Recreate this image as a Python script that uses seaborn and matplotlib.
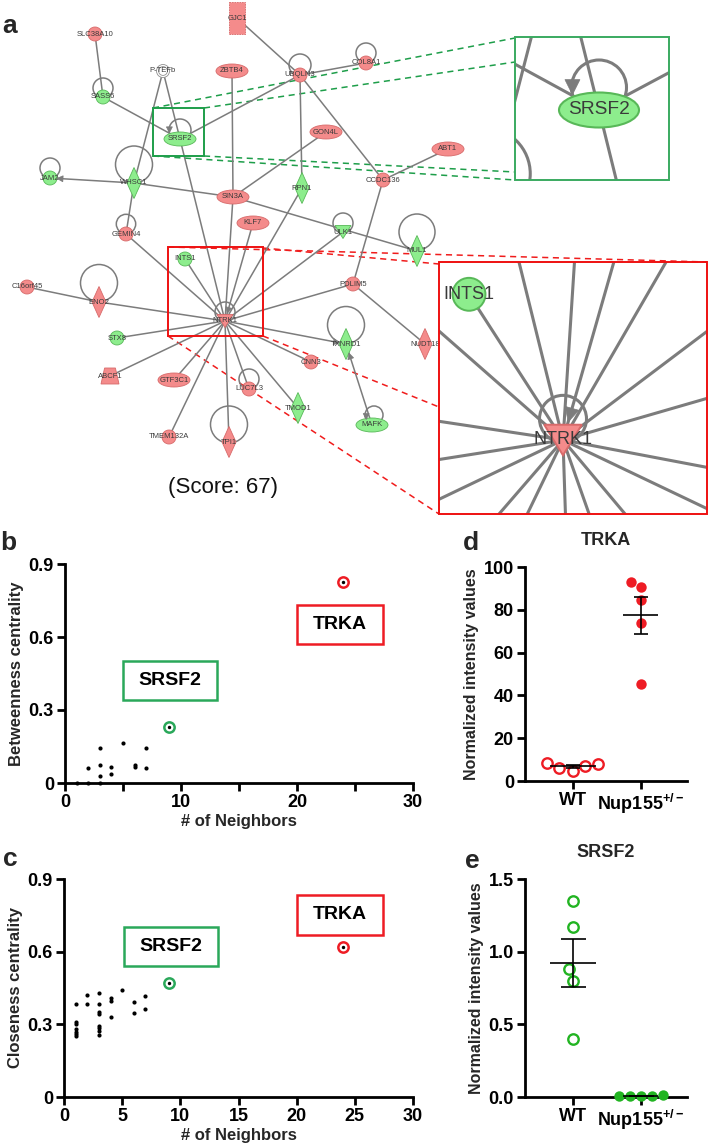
import numpy as np
import pandas as pd
import matplotlib
matplotlib.use("Agg")
import matplotlib.pyplot as plt
import seaborn as sns
from matplotlib.patches import Circle, Ellipse, Polygon, Rectangle

# ---------------- network (panel a) ----------------
node_names = ["GJC1", "SLC38A10", "P-TEFb", "ZBTB4", "UBQLN3", "COL8A1", "SASS6", "SRSF2", "GON4L", "ABT1",
              "JAM2", "WHSC1", "RPN1", "SIN3A", "CCDC136", "KLF7", "GEMIN4", "ULK1", "MUL1", "INTS1",
              "C16orf45", "ENO2", "NTRK1", "PDLIM5", "TXNRD1", "NUDT18", "STX8", "CNN3", "ABCF1", "GTF3C1",
              "LUC7L3", "TMOD1", "MAFK", "TMEM132A", "TPI1"]
node_x = [237, 95, 163, 232, 300, 366, 103, 180, 326, 448,
          50, 134, 302, 233, 383, 253, 126, 343, 417, 185,
          27, 99, 225, 353, 346, 425, 117, 311, 110, 174,
          249, 298, 372, 169, 229]
node_y = [18, 34, 71, 71, 75, 63, 97, 139, 132, 149,
          178, 183, 188, 197, 180, 223, 234, 232, 251, 259,
          287, 302, 321, 284, 344, 344, 338, 362, 376, 380,
          389, 408, 425, 437, 442]
node_shape = ["rect", "circle", "dcircle", "ellipse", "circle", "circle", "circle", "ellipse", "ellipse", "ellipse",
              "circle", "diamond", "diamond", "ellipse", "circle", "ellipse", "circle", "tri", "diamond", "circle",
              "circle", "diamond", "tri", "circle", "diamond", "diamond", "circle", "circle", "trap", "ellipse",
              "circle", "diamond", "ellipse", "circle", "diamond"]
node_reg = ["up", "up", "none", "up", "up", "up", "down", "down", "up", "up",
            "down", "down", "down", "up", "up", "up", "up", "down", "down", "down",
            "up", "up", "up", "up", "down", "up", "down", "up", "up", "up",
            "up", "down", "down", "up", "up"]
edges = [("GJC1", "UBQLN3"), ("SLC38A10", "SASS6"), ("SASS6", "SRSF2"), ("P-TEFb", "WHSC1"),
         ("P-TEFb", "SRSF2"), ("SRSF2", "UBQLN3"), ("SRSF2", "NTRK1"), ("UBQLN3", "COL8A1"),
         ("UBQLN3", "RPN1"), ("UBQLN3", "CCDC136"), ("ZBTB4", "SIN3A"), ("GON4L", "SIN3A"),
         ("ABT1", "CCDC136"), ("CCDC136", "PDLIM5"), ("WHSC1", "JAM2"), ("WHSC1", "SIN3A"),
         ("WHSC1", "GEMIN4"), ("SIN3A", "MUL1"), ("SIN3A", "NTRK1"), ("KLF7", "NTRK1"),
         ("RPN1", "NTRK1"), ("ULK1", "NTRK1"), ("GEMIN4", "NTRK1"), ("INTS1", "NTRK1"),
         ("C16orf45", "ENO2"), ("ENO2", "NTRK1"), ("STX8", "NTRK1"), ("ABCF1", "NTRK1"),
         ("GTF3C1", "NTRK1"), ("TMEM132A", "NTRK1"), ("TPI1", "NTRK1"), ("LUC7L3", "NTRK1"),
         ("TMOD1", "NTRK1"), ("CNN3", "NTRK1"), ("NTRK1", "TXNRD1"), ("PDLIM5", "NTRK1"),
         ("PDLIM5", "NUDT18"), ("MAFK", "TXNRD1")]
edge_arrow = [False, False, False, False, False, False, False, False,
              False, False, False, False, False, False, True, False,
              False, False, False, True, False, False, False, False,
              False, False, False, False, False, False, False, False,
              False, False, True, False, False, True]
loop_nodes = ["SASS6", "JAM2", "WHSC1", "GEMIN4", "UBQLN3", "COL8A1", "SRSF2", "ULK1",
              "MUL1", "ENO2", "NTRK1", "TXNRD1", "LUC7L3", "TPI1", "MAFK"]
loop_dx = [0, 0, 0, 0, 0, 0, 0, 0, 0, 0, 0, 0, 0, 0, 2]
loop_dy = [-9, -10, -18.5, -10, -10, -10, -9, -9, -19, -19, -9, -19, -10, -17.5, -10]
loop_r = [10, 10, 18.5, 9.7, 11, 10, 11, 10, 18, 18.5, 10, 18.5, 10, 18.5, 9]
loop_arrow_deg = [None, None, None, None, None, None, 165, None, None, None, None, None, None, None, 150]

# ---------------- panel b / c ----------------
neighbors_b = [1, 2, 3, 2, 3, 3, 3, 4, 4, 5, 6, 6, 7, 7]
betweenness = [0.0, 0.0, 0.0, 0.06, 0.073, 0.144, 0.029, 0.064, 0.037, 0.163, 0.075, 0.066, 0.144, 0.063]
neighbors_c = [1, 1, 1, 1, 1, 1, 1, 2, 2, 3, 3, 3, 3, 3, 3, 3, 3, 4, 4, 4, 5, 6, 6, 7, 7]
closeness = [0.386, 0.31, 0.30, 0.28, 0.27, 0.26, 0.25, 0.423, 0.385,
             0.429, 0.385, 0.35, 0.342, 0.295, 0.284, 0.273, 0.258,
             0.409, 0.396, 0.329, 0.441, 0.394, 0.346, 0.419, 0.364]
hl_names = ["SRSF2", "TRKA"]
hl_neighbors = [9, 24]
hl_betweenness = [0.229, 0.825]
hl_closeness = [0.471, 0.619]

# ---------------- panel d / e ----------------
groups = ["WT", "Nup155"]
group_labels = ["WT", r"Nup155$^{\mathbf{+/-}}$"]
trka_wt = [8.2, 7.2, 4.8, 5.9, 7.9]
trka_nup = [93.0, 90.7, 84.4, 73.9, 45.3]
srsf2_wt = [1.349, 1.172, 0.884, 0.80, 0.40]
srsf2_nup = [0.012, 0.008, 0.006, 0.007, 0.01]

# ---------------- style ----------------
sns.set_theme(style="ticks")
plt.rcParams["font.family"] = ["Liberation Sans", "DejaVu Sans"]
plt.rcParams["font.weight"] = "bold"
plt.rcParams["axes.labelweight"] = "bold"
plt.rcParams["axes.titleweight"] = "bold"
plt.rcParams["mathtext.fontset"] = "custom"
plt.rcParams["mathtext.rm"] = "Liberation Sans:bold"
plt.rcParams["mathtext.bf"] = "Liberation Sans:bold"
plt.rcParams["mathtext.it"] = "Liberation Sans:bold"

RED = "#ee1c24"
GREEN = "#22b422"
BOX_GREEN = "#2aa85a"
EDGE = "#7c7c7c"
FILL = {"up": "#f48b8b", "down": "#8ded8d", "none": "white"}
ECOL = {"up": "#d76a6a", "down": "#58b858", "none": "#909090"}

W, H = 709, 1145
fig = plt.figure(figsize=(W / 100, H / 100), dpi=100)

# ================= panel a =================
axa = fig.add_axes([0, 1 - 520 / H, 1, 520 / H])
axa.set_xlim(0, W)
axa.set_ylim(520, 0)
axa.axis("off")

pos = {n: np.array([x, y], float) for n, x, y in zip(node_names, node_x, node_y)}
shape = dict(zip(node_names, node_shape))
reg = dict(zip(node_names, node_reg))
SIZE = {"circle": (14, 14), "ellipse": (32, 14), "diamond": (14, 31), "tri": (16, 13),
        "rect": (16, 32), "trap": (18, 16), "dcircle": (13, 13)}


def boundary(name, u):
    w, h = SIZE[shape[name]]
    a, b = w / 2, h / 2
    ux, uy = abs(u[0]) + 1e-9, abs(u[1]) + 1e-9
    sh = shape[name]
    if sh == "ellipse":
        return 1 / np.sqrt((ux / a) ** 2 + (uy / b) ** 2)
    if sh == "diamond":
        return 1 / (ux / a + uy / b)
    if sh == "rect":
        return min(a / ux, b / uy)
    return a


def arrowhead(ax, tip, u, L, w):
    u = np.asarray(u, float)
    perp = np.array([-u[1], u[0]])
    base = tip - L * u
    p = Polygon([tip, base + w * perp, base - w * perp], closed=True, fc=EDGE, ec=EDGE, lw=0.5, zorder=5)
    ax.add_patch(p)
    return p


def draw_network(ax, f, s, lw, box=None):
    arts = []
    clip = None
    if box is not None:
        clip = Rectangle(box[:2], box[2], box[3], transform=ax.transData)
    for (a, b), arr in zip(edges, edge_arrow):
        pa, pb = f(pos[a]), f(pos[b])
        ln, = ax.plot([pa[0], pb[0]], [pa[1], pb[1]], color=EDGE, lw=lw, zorder=2, solid_capstyle="butt")
        arts.append(ln)
        if arr:
            u = (pa - pb) / np.linalg.norm(pa - pb)
            tip = pb + u * boundary(b, u) * s
            arts.append(arrowhead(ax, tip, -u, 6 * s, 3 * s))
    for n, dx, dy, r, th in zip(loop_nodes, loop_dx, loop_dy, loop_r, loop_arrow_deg):
        c = f(pos[n] + np.array([dx, dy]))
        circ = Circle(c, r * s, fill=False, ec=EDGE, lw=lw, zorder=2)
        ax.add_patch(circ)
        arts.append(circ)
        if th is not None:
            t = np.deg2rad(th)
            tip = c + r * s * np.array([np.cos(t), np.sin(t)])
            arts.append(arrowhead(ax, tip, [0, 1.0], 6 * s, 3 * s))
    for n in node_names:
        x, y = f(pos[n])
        w, h = SIZE[shape[n]]
        w, h = w * s, h * s
        fc, ec = FILL[reg[n]], ECOL[reg[n]]
        sh = shape[n]
        kw = dict(fc=fc, ec=ec, lw=0.6 * s, zorder=4)
        if sh == "circle":
            p = [Circle((x, y), w / 2, **kw)]
        elif sh == "dcircle":
            p = [Circle((x, y), w / 2, **kw), Circle((x, y), w / 2 * 0.68, fc="white", ec=ec, lw=0.6 * s, zorder=4)]
        elif sh == "ellipse":
            p = [Ellipse((x, y), w, h, **kw)]
        elif sh == "diamond":
            p = [Polygon([(x, y - h / 2), (x + w / 2, y), (x, y + h / 2), (x - w / 2, y)], **kw)]
        elif sh == "tri":
            p = [Polygon([(x - w / 2, y - h / 2), (x + w / 2, y - h / 2), (x, y + h / 2)], **kw)]
        elif sh == "rect":
            p = [Rectangle((x - w / 2, y - h / 2), w, h, ls=(0, (2, 1)), **kw)]
        else:
            p = [Polygon([(x - w * 0.3, y - h / 2), (x + w * 0.3, y - h / 2), (x + w / 2, y + h / 2),
                          (x - w / 2, y + h / 2)], **kw)]
        for pp in p:
            ax.add_patch(pp)
            arts.append(pp)
        inside = box is None or (box[0] < x < box[0] + box[2] and box[1] < y < box[1] + box[3])
        if inside:
            ax.text(x, y, n, fontsize=5.5 * s, color="#3a3a3a", ha="center", va="center",
                    weight="normal", zorder=6)
    if clip is not None:
        for a in arts:
            a.set_clip_path(clip)


draw_network(axa, lambda p: np.asarray(p, float), 1.0, 1.1)

# zoom boxes
g_main = (153, 108, 51, 48)
g_ins = (515, 37, 154, 143)
r_main = (168, 247, 95, 89)
r_ins = (439, 262, 268, 252)
for (x0, y0, w0, h0), c in [(g_main, "#1e9e4a"), (r_main, "#ee1111")]:
    axa.add_patch(Rectangle((x0, y0), w0, h0, fill=False, ec=c, lw=1.4, zorder=7))

sg, cg = 2.5, np.array([599.0, 110.0])
sr, cr = 2.35, np.array([563.0, 440.0])
draw_network(axa, lambda p: cg + sg * (np.asarray(p, float) - pos["SRSF2"]), sg, 2.2, box=g_ins)
draw_network(axa, lambda p: cr + sr * (np.asarray(p, float) - pos["NTRK1"]), sr, 2.2, box=r_ins)
axa.add_patch(Rectangle(g_ins[:2], g_ins[2], g_ins[3], fill=False, ec="#3aaa60", lw=1.4, zorder=9))
axa.add_patch(Rectangle(r_ins[:2], r_ins[2], r_ins[3], fill=False, ec="#ee1111", lw=1.4, zorder=9))

dash = (0, (4, 3))
for (x1, y1), (x2, y2) in [((153, 108), (515, 38)), ((204, 108), (515, 62)),
                           ((153, 156), (515, 180)), ((204, 156), (515, 172))]:
    axa.plot([x1, x2], [y1, y2], color="#1e9e4a", lw=1.1, ls=dash, zorder=1)
for (x1, y1), (x2, y2) in [((168, 247), (707, 262)), ((263, 248), (439, 264)),
                           ((263, 336), (439, 407)), ((168, 336), (439, 514))]:
    axa.plot([x1, x2], [y1, y2], color="#f01c1c", lw=1.1, ls=dash, zorder=1)

axa.text(223, 487, "(Score: 67)", fontsize=16, ha="center", va="center", weight="normal", color="#111")


# ================= panels b, c =================
def style_axes(ax, size=13):
    sns.despine(ax=ax)
    for sp in ["left", "bottom"]:
        ax.spines[sp].set_linewidth(2)
        ax.spines[sp].set_color("black")
    ax.tick_params(axis="both", direction="out", length=6, width=2, labelsize=size, pad=2, colors="black")
    ax.grid(False)


def scatter_panel(ax, xs, ys, hly, boxes):
    sns.scatterplot(x=xs, y=ys, ax=ax, color="black", s=9, linewidth=0, clip_on=False, zorder=3)
    for xv, yv, c in zip(hl_neighbors, hly, [BOX_GREEN, RED]):
        sns.scatterplot(x=[xv], y=[yv], ax=ax, color="white", edgecolor=c, linewidth=1.8, s=55, zorder=4,
                        clip_on=False)
        sns.scatterplot(x=[xv], y=[yv], ax=ax, color="black", s=6, linewidth=0, zorder=5, clip_on=False)
    for name, (x0, x1, y0, y1), c in zip(hl_names, boxes, [BOX_GREEN, RED]):
        ax.add_patch(Rectangle((x0, y0), x1 - x0, y1 - y0, fill=False, ec=c, lw=1.8, zorder=3))
        ax.text((x0 + x1) / 2, (y0 + y1) / 2, name, ha="center", va="center", fontsize=14,
                weight="bold", color="black", zorder=4)
    ax.set_xlim(0, 30)
    ax.set_ylim(0, 0.9)
    ax.set_yticks([0, 0.3, 0.6, 0.9])
    ax.set_yticklabels(["0", "0.3", "0.6", "0.9"])
    ax.set_xticks([0, 5, 10, 15, 20, 25, 30])
    style_axes(ax)
    ax.set_xlabel("# of Neighbors", fontsize=12, labelpad=2)


axb = fig.add_axes([65 / W, 1 - 783 / H, 348 / W, 219 / H])
scatter_panel(axb, neighbors_b, betweenness, hl_betweenness, [(5.0, 13.1, 0.341, 0.501), (20, 27.4, 0.571, 0.73)])
axb.set_xticklabels(["0", "", "10", "", "20", "", "30"])
axb.set_ylabel("Betweenness centrality", fontsize=12, labelpad=3)

axc = fig.add_axes([64 / W, 1 - 1097 / H, 349 / W, 218 / H])
scatter_panel(axc, neighbors_c, closeness, hl_closeness, [(5.2, 13.2, 0.541, 0.702), (20, 27.4, 0.669, 0.834)])
axc.set_xticklabels(["0", "5", "10", "15", "20", "25", "30"])
axc.set_ylabel("Closeness centrality", fontsize=12, labelpad=3)


# ================= panels d, e =================
def dot_panel(ax, wt, nup, color, title, ylim, yticks, yticklabels, capsize, halfw):
    df_wt = pd.DataFrame({"group": [groups[0]] * len(wt), "value": wt})
    df_nup = pd.DataFrame({"group": [groups[1]] * len(nup), "value": nup})
    sns.swarmplot(data=df_wt, x="group", y="value", order=groups, ax=ax, color="white",
                  edgecolor=color, linewidth=1.7, size=7.5, zorder=3, clip_on=False)
    sns.swarmplot(data=df_nup, x="group", y="value", order=groups, ax=ax, color=color,
                  linewidth=0, size=7.5, zorder=3, clip_on=False)
    for i, vals in enumerate([wt, nup]):
        m = np.mean(vals)
        se = np.std(vals, ddof=1) / np.sqrt(len(vals))
        ax.hlines(m, i - halfw[i], i + halfw[i], color="black", lw=1.2, zorder=4)
        ax.errorbar(i, m, yerr=se, color="black", capsize=capsize, capthick=1.2, elinewidth=1.2, zorder=4)
    ax.set_xlim(-0.7, 1.68)
    ax.set_ylim(*ylim)
    ax.set_yticks(yticks)
    ax.set_yticklabels(yticklabels)
    ax.set_xticks([0, 1])
    ax.set_xticklabels(group_labels)
    style_axes(ax)
    ax.set_xlabel("")
    ax.set_ylabel("Normalized intensity values", fontsize=11.5, labelpad=3)
    ax.set_title(title, fontsize=13, weight="bold", pad=16)


axd = fig.add_axes([525 / W, 1 - 781 / H, 162 / W, 214 / H])
dot_panel(axd, trka_wt, trka_nup, RED, "TRKA", (0, 100), [0, 20, 40, 60, 80, 100],
          ["0", "20", "40", "60", "80", "100"], 5, [0.34, 0.26])

axe = fig.add_axes([525 / W, 1 - 1097 / H, 162 / W, 218 / H])
dot_panel(axe, srsf2_wt, srsf2_nup, GREEN, "SRSF2", (0, 1.5), [0, 0.5, 1.0, 1.5],
          ["0.0", "0.5", "1.0", "1.5"], 9, [0.34, 0.26])

# panel letters
for letter, x, y in [("a", 2, 33), ("b", 0, 550), ("c", 3, 866), ("d", 463, 550), ("e", 465, 868)]:
    fig.text(x / W, 1 - y / H, letter, fontsize=19, weight="bold", va="baseline", ha="left")

fig.savefig("out.png", dpi=100)
